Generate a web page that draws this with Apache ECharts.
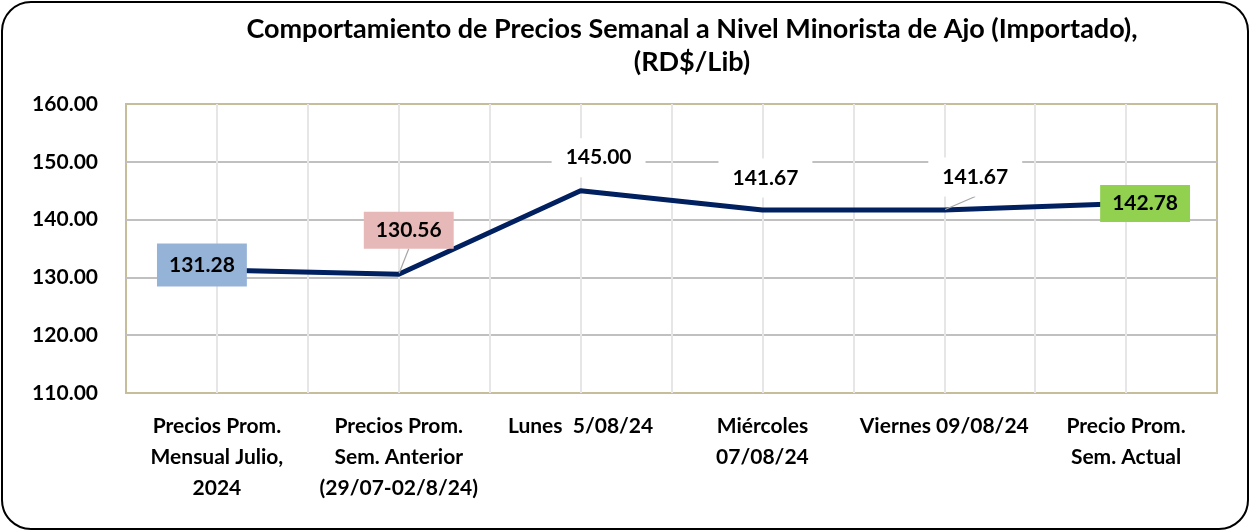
<!DOCTYPE html>
<html>
<head>
<meta charset="utf-8">
<script src="https://cdn.jsdelivr.net/npm/echarts@6/dist/echarts.min.js"></script>
<style>
html,body{margin:0;padding:0;background:#fff;}
#wrap{position:absolute;left:1px;top:1px;width:1244px;height:525px;border:2px solid #000;border-radius:30px;overflow:hidden;}
#c{width:1244px;height:525px;}
</style>
</head>
<body>
<div id="wrap"><div id="c"></div></div>
<script>
const categories = [
  'Precios Prom.\nMensual Julio,\n2024',
  'Precios Prom.\nSem. Anterior\n(29/07-02/8/24)',
  'Lunes  5/08/24',
  'Miércoles\n07/08/24',
  'Viernes 09/08/24',
  'Precio Prom.\nSem. Actual'
];
const prices = [131.28, 130.56, 145.00, 141.67, 141.67, 142.78];
const yTicks = [110, 120, 130, 140, 150, 160];

const labelBg = ['#95b3d7', '#e6b8b7', '#ffffff', '#ffffff', '#ffffff', '#92d050'];
const labelShift = [[-15, -5], [10, -44], [18, -33], [3, -32], [31, -33], [19, 0]];
const labelGuide = [false, true, false, false, true, false];
const labelPad = [[11, 12], [8, 12], [9, 14], [9, 14], [9, 14], [8, 12]];

const FONT = 'Lato, "Liberation Sans", sans-serif';
const chart = echarts.init(document.getElementById('c'));
chart.setOption({
  animation: false,
  title: {
    text: 'Comportamiento de Precios Semanal a Nivel Minorista de Ajo (Importado),\n(RD$/Lib)',
    left: 684, top: 5, textAlign: 'center',
    textStyle: {fontFamily: FONT, fontWeight: 'bold', fontSize: 27, color: '#000', lineHeight: 33}
  },
  grid: {left: 123, right: 30, top: 101, bottom: 135, show: true, borderColor: '#c8bd9b', borderWidth: 2, backgroundColor: '#fff'},
  xAxis: [{
    type: 'category', data: categories, boundaryGap: true,
    axisLine: {show: false},
    axisTick: {show: false},
    splitLine: {show: false},
    axisLabel: {interval: 0, margin: 18, fontFamily: FONT, fontWeight: 'bold', fontSize: 21, color: '#000', lineHeight: 31}
  }, {
    type: 'value', min: 0, max: categories.length * 2, interval: 1, position: 'top',
    axisLine: {show: false}, axisTick: {show: false}, axisLabel: {show: false},
    splitLine: {show: true, showMinLine: false, showMaxLine: false, lineStyle: {color: '#e6e6e6', width: 2}}
  }],
  yAxis: {
    type: 'value', min: yTicks[0], max: yTicks[yTicks.length - 1], interval: 10,
    axisLine: {show: false}, axisTick: {show: false},
    splitLine: {show: true, showMinLine: false, showMaxLine: false, lineStyle: {color: '#c0c0c0', width: 2}},
    axisLabel: {margin: 28, fontFamily: FONT, fontWeight: 'bold', fontSize: 21, color: '#000', formatter: v => v.toFixed(2)}
  },
  series: [{
    type: 'line', xAxisIndex: 0, z: 5,
    data: prices.map((v, i) => ({
      value: v,
      label: {backgroundColor: labelBg[i], padding: labelPad[i]},
      labelLine: {show: labelGuide[i]}
    })),
    symbol: 'circle', symbolSize: 2, showSymbol: true,
    itemStyle: {color: 'rgba(0,0,0,0)', borderWidth: 0},
    lineStyle: {color: '#002060', width: 5},
    label: {
      show: true, position: 'inside',
      fontFamily: FONT, fontWeight: 'bold', fontSize: 21, color: '#000',
      formatter: p => p.value.toFixed(2)
    },
    labelLine: {show: false, lineStyle: {color: '#a6a6a6', width: 1.2}},
    labelLayout: p => ({dx: labelShift[p.dataIndex][0], dy: labelShift[p.dataIndex][1]})
  }]
});
</script>
</body>
</html>
